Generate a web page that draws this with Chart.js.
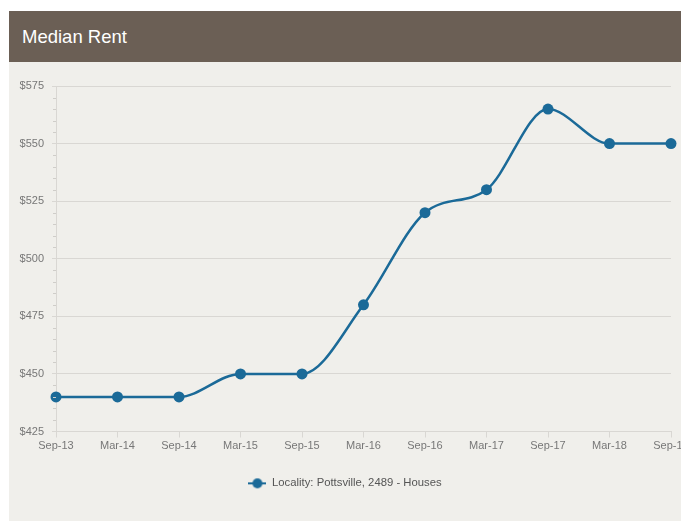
<!DOCTYPE html>
<html>
<head>
<meta charset="utf-8">
<script src="https://cdn.jsdelivr.net/npm/chart.js@4.4.1/dist/chart.umd.min.js"></script>
<style>
  html, body { margin: 0; padding: 0; background: #fff; overflow: hidden; }
  #card { position: absolute; left: 9px; top: 11px; width: 692px; }
  #head {
    height: 51px; background: #6b5f55; color: #fff;
    font: 18.5px "Liberation Sans", Arial, sans-serif;
    line-height: 51px; padding-left: 13px; box-sizing: border-box;
  }
  #panel { background: #f0efeb; height: 459px; position: relative; }
</style>
</head>
<body>
<div id="card">
  <div id="head">Median Rent</div>
  <div id="panel"><canvas id="rentChart" width="687" height="459"></canvas></div>
</div>
<script>
// quarterly-ish rent readings
const periods = ["Sep-13", "Mar-14", "Sep-14", "Mar-15", "Sep-15", "Mar-16", "Sep-16", "Mar-17", "Sep-17", "Mar-18", "Sep-18"];
const rents = [440, 440, 440, 450, 450, 480, 520, 530, 565, 550, 550];
const seriesName = "Locality: Pottsville, 2489 - Houses";
const yMin = 425, yMax = 575, yStep = 25, yMinorStep = 5;

const blue = "#1b6a98";
const gridGrey = "#d9d7d3";

// legend symbol: line with a dot in the middle
const legendIcon = document.createElement("canvas");
legendIcon.width = 18; legendIcon.height = 12;
(function () {
  const c = legendIcon.getContext("2d");
  c.strokeStyle = blue; c.lineWidth = 2;
  c.beginPath(); c.moveTo(0, 6); c.lineTo(18, 6); c.stroke();
  c.fillStyle = blue;
  c.beginPath(); c.arc(9, 6, 5, 0, Math.PI * 2); c.fill();
})();

const minorTicks = {
  id: "minorTicks",
  afterDraw(chart) {
    const y = chart.scales.y;
    const ctx = chart.ctx;
    ctx.save();
    ctx.strokeStyle = "#cfcdc9";
    ctx.lineWidth = 1;
    for (let v = yMin; v <= yMax; v += yMinorStep) {
      if (v % yStep === 0) continue;
      const py = Math.round(y.getPixelForValue(v)) + 0.5;
      ctx.beginPath();
      ctx.moveTo(y.right - 3, py);
      ctx.lineTo(y.right, py);
      ctx.stroke();
    }
    ctx.restore();
  }
};

Chart.defaults.font.family = '"Liberation Sans", Arial, sans-serif';
Chart.defaults.font.size = 11;
Chart.defaults.color = "#777";

new Chart(document.getElementById("rentChart"), {
  type: "line",
  data: {
    labels: periods,
    datasets: [{
      label: seriesName,
      data: rents,
      borderColor: blue,
      backgroundColor: blue,
      borderWidth: 2.5,
      pointRadius: 5.5,
      pointHoverRadius: 6,
      pointBackgroundColor: blue,
      pointBorderWidth: 0,
      cubicInterpolationMode: "monotone",
      fill: false
    }]
  },
  options: {
    responsive: false,
    animation: false,
    layout: { padding: { top: 24, right: 25, left: 10, bottom: 22 } },
    scales: {
      x: {
        afterFit(scale) { scale.height += 13; },
        grid: { drawOnChartArea: false, drawTicks: true, tickLength: 6, color: gridGrey },
        border: { color: gridGrey },
        ticks: { padding: 2, maxRotation: 0, autoSkip: false, color: "#777" }
      },
      y: {
        min: yMin,
        max: yMax,
        afterFit(scale) { scale.width = 37; },
        grid: { color: gridGrey, tickLength: 4 },
        border: { color: gridGrey },
        ticks: {
          stepSize: yStep,
          padding: 8,
          color: "#777",
          callback: v => "$" + v
        }
      }
    },
    plugins: {
      legend: {
        position: "bottom",
        labels: {
          usePointStyle: true,
          pointStyleWidth: 18,
          color: "#555",
          font: { size: 11.3 },
          padding: 10,
          generateLabels(chart) {
            const items = Chart.defaults.plugins.legend.labels.generateLabels(chart);
            items.forEach(it => { it.pointStyle = legendIcon; });
            return items;
          }
        }
      },
      tooltip: { enabled: false }
    }
  },
  plugins: [minorTicks]
});
</script>
</body>
</html>
